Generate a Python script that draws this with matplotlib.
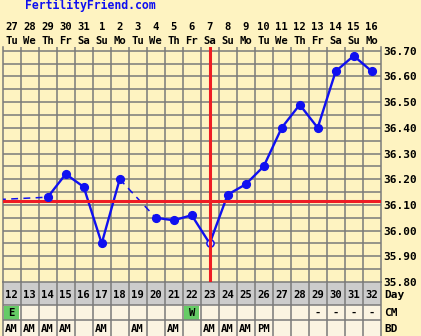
import matplotlib
matplotlib.use('Agg')
import matplotlib.pyplot as plt
import matplotlib.transforms as mtransforms
from matplotlib.patches import Rectangle
import numpy as np

# ---------------- data ----------------
days = list(range(12, 33))
dates = [27, 28, 29, 30, 31, 1, 2, 3, 4, 5, 6, 7, 8, 9, 10, 11, 12, 13, 14, 15, 16]
weekdays = ['Tu', 'We', 'Th', 'Fr', 'Sa', 'Su', 'Mo', 'Tu', 'We', 'Th', 'Fr',
            'Sa', 'Su', 'Mo', 'Tu', 'We', 'Th', 'Fr', 'Sa', 'Su', 'Mo']
prev_day = 11
prev_temp = 36.12
temps = [np.nan, np.nan, 36.13, 36.22, 36.17, 35.95, 36.20, np.nan, 36.05, 36.04,
         36.06, 35.95, 36.14, 36.18, 36.25, 36.40, 36.49, 36.40, 36.62, 36.68, 36.62]
open_days = [23]
coverline = 36.115
ovulation_day = 23
cm = ['E', '', '', '', '', '', '', '', '', '', 'W', '', '', '', '', '', '', '-', '-', '-', '-']
bd = ['AM', 'AM', 'AM', 'AM', '', 'AM', '', 'AM', '', 'AM', '', 'AM', 'AM', 'AM', 'PM',
      '', '', '', '', '', '']
y_ticks = [35.80, 35.90, 36.00, 36.10, 36.20, 36.30, 36.40, 36.50, 36.60, 36.70]

# ---------------- style ----------------
W, H = 421, 336
BG = '#FEF3C1'
CELL = '#FBF4E2'
GRAYROW = '#CCCCCC'
GRID = '#7A7A7A'
BLUE = '#1010F0'
RED = '#EE1C24'
GREEN = '#66CC66'
FONT = 'DejaVu Sans Mono'

fig = plt.figure(figsize=(W / 100, H / 100), dpi=100, facecolor=BG)

x0, x1 = 2.7, 380.7
ytop, ybot = 47.0, 282.0
ax = fig.add_axes([x0 / W, (H - ybot) / H, (x1 - x0) / W, (ybot - ytop) / H])
ax.set_facecolor(BG)
ax.set_xlim(days[0] - 0.5, days[-1] + 0.5)
ax.set_ylim(35.80, 35.80 + (ybot - ytop) / 257.0)

# grid
for d in days[:-1]:
    ax.axvline(d + 0.5, color=GRID, lw=1.1, zorder=1)
for v in np.arange(35.85, 36.705, 0.05):
    ax.axhline(v, color=GRID, lw=1.1, zorder=1)
ax.spines['top'].set_visible(False)
for s in ['left', 'right', 'bottom']:
    ax.spines[s].set_color(GRID)
    ax.spines[s].set_linewidth(1.1)

# right tick labels
ax.yaxis.tick_right()
ax.set_yticks(y_ticks)
ax.set_yticklabels(['%.2f' % v for v in y_ticks], fontfamily=FONT,
                   fontweight='bold', fontsize=8)
ax.tick_params(axis='y', length=0, pad=2.2)
ax.set_xticks([])

# temperature line
all_days = [prev_day] + days
all_temps = [prev_temp] + temps
pts = [(d, t) for d, t in zip(all_days, all_temps) if not np.isnan(t)]
for (da, ta), (db, tb_) in zip(pts[:-1], pts[1:]):
    if db - da == 1:
        ax.plot([da, db], [ta, tb_], color=BLUE, lw=1.7, zorder=3,
                solid_capstyle='round')
    else:
        ax.plot([da, db], [ta, tb_], color=BLUE, lw=1.1, zorder=3,
                linestyle=(0, (4.5, 3.5)))

solid_d = [d for d, t in zip(days, temps) if not np.isnan(t) and d not in open_days]
solid_t = [t for d, t in zip(days, temps) if not np.isnan(t) and d not in open_days]
ax.plot(solid_d, solid_t, 'o', color=BLUE, ms=5.6, zorder=6, clip_on=False)
open_d = [d for d, t in zip(days, temps) if d in open_days]
open_t = [t for d, t in zip(days, temps) if d in open_days]
ax.plot(open_d, open_t, 'o', mfc='#EDE3EC', mec=BLUE, mew=1.1, ms=5.2, zorder=4)

# coverline and ovulation line
ax.axhline(coverline, color=RED, lw=2.2, zorder=5)
ax.axvline(ovulation_day, color=RED, lw=2.2, zorder=5)

# top date labels
trans = mtransforms.blended_transform_factory(ax.transData, fig.transFigure)
for d, dt, wd in zip(days, dates, weekdays):
    ax.text(d, (H - 27.0) / H, str(dt), transform=trans, ha='center', va='center',
            fontfamily=FONT, fontweight='bold', fontsize=7.6, clip_on=False)
    ax.text(d, (H - 40.5) / H, wd, transform=trans, ha='center', va='center',
            fontfamily=FONT, fontweight='bold', fontsize=7.6, clip_on=False)

# header
fig.text(25 / W, (H - 9.2) / H, 'FertilityFriend.com', color=BLUE,
         fontfamily=FONT, fontweight='bold', fontsize=8.3, ha='left', va='baseline')

# ---------------- bottom table ----------------
tb = fig.add_axes([x0 / W, 0, (x1 - x0) / W, (H - ybot) / H])
tb.set_xlim(days[0] - 0.5, days[-1] + 0.5)
tb.set_ylim(H - ybot, 0)
tb.axis('off')
rows = [(0, 23, GRAYROW), (23, 38, CELL), (38, 54, CELL)]
for r0, r1, c in rows:
    tb.add_patch(Rectangle((days[0] - 0.5, r0), len(days), r1 - r0, facecolor=c,
                           edgecolor='none', zorder=1))
for i, d in enumerate(days):
    if cm[i] in ('E', 'W'):
        tb.add_patch(Rectangle((d - 0.42, 24), 0.84, 14, facecolor=GREEN,
                               edgecolor='none', zorder=2))
for d in [days[0] - 0.5] + [dd + 0.5 for dd in days]:
    tb.plot([d, d], [0, 54], color=GRID, lw=1.1, zorder=3, clip_on=False)
for yy in [0.3, 23, 38]:
    tb.plot([days[0] - 0.5, days[-1] + 0.5], [yy, yy], color=GRID, lw=1.1, zorder=3)

for i, d in enumerate(days):
    tb.text(d, 12.5, str(d), ha='center', va='center', fontfamily=FONT,
            fontweight='bold', fontsize=7.6, zorder=4)
    if cm[i]:
        tb.text(d, 31, cm[i], ha='center', va='center', fontfamily=FONT,
                fontweight='bold', fontsize=7.6, zorder=4)
    if bd[i]:
        tb.text(d, 46.5, bd[i], ha='center', va='center', fontfamily=FONT,
                fontweight='bold', fontsize=7.6, zorder=4)

ttrans = mtransforms.blended_transform_factory(fig.transFigure, tb.transData)
for lbl, yy in [('Day', 12.5), ('CM', 31), ('BD', 46.5)]:
    tb.text(384 / W, yy, lbl, transform=ttrans, ha='left', va='center',
            fontfamily=FONT, fontweight='bold', fontsize=8, clip_on=False)

fig.savefig('out.png', dpi=100, facecolor=BG)
